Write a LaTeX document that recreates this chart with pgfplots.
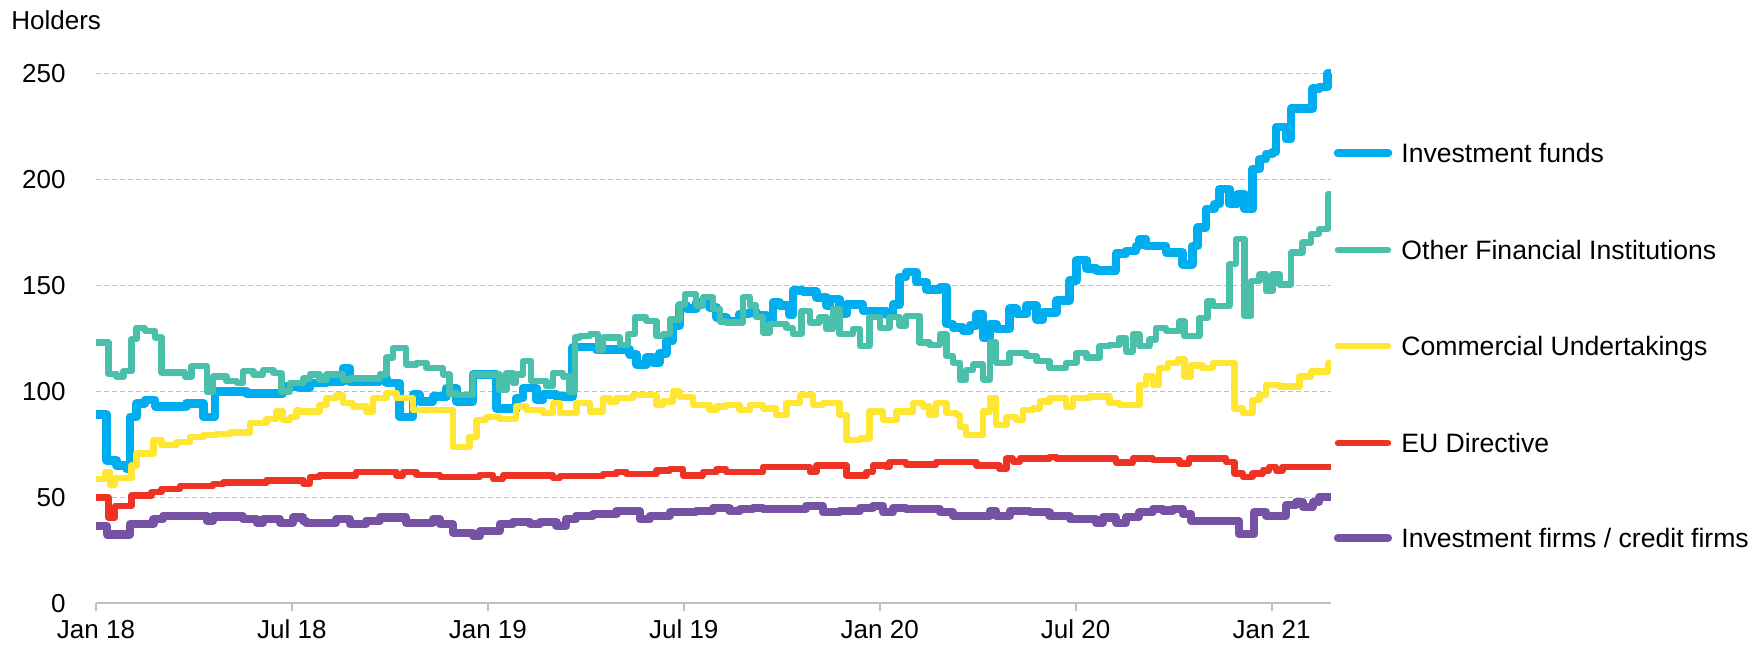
\documentclass[border=0pt]{standalone}
\usepackage{fontspec}
\setmainfont{Liberation Sans}
\usepackage{pgfplots}
\pgfplotsset{compat=1.18}

\definecolor{cFunds}{HTML}{00AEEF}
\definecolor{cOther}{HTML}{4ABFAA}
\definecolor{cComm}{HTML}{FFE632}
\definecolor{cEU}{HTML}{EE3224}
\definecolor{cFirms}{HTML}{7552A3}
\definecolor{gridgray}{HTML}{C0C0C0}
\definecolor{axisgray}{HTML}{BFBFBF}

\newcommand{\lbl}{\fontsize{13}{15}\selectfont}
\newcommand{\leg}{\fontsize{13.3}{15}\selectfont}

\begin{document}
\begin{tikzpicture}
\path[use as bounding box] (-48pt,-21.35pt) rectangle (828pt,301.65pt);
\begin{axis}[
  at={(0,0)}, anchor=south west,
  scale only axis, width=617.5pt, height=264.9pt,
  xmin=0, xmax=37.82, ymin=0, ymax=250,
  clip=false,
  axis lines*=left,
  x axis line style={color=axisgray, line width=1pt},
  y axis line style={draw=none},
  xtick={0,6,...,36},
  xticklabels={Jan 18,Jul 18,Jan 19,Jul 19,Jan 20,Jul 20,Jan 21},
  ytick={0,50,...,250},
  tick align=outside,
  major tick length=4pt,
  xtick style={color=axisgray, line width=1pt},
  ytick style={draw=none},
  ymajorgrids=true,
  major grid style={dash pattern=on 2.6pt off 1.4pt, color=gridgray, line width=0.8pt},
  /pgf/number format/assume math mode=true,
  tick label style={font=\lbl, text=black},
  xticklabel style={anchor=base, yshift=-13.6pt},
  yticklabel style={anchor=east, xshift=-7.7pt},
  every axis plot/.append style={const plot, line join=round},
]
% Investment funds
\addplot[color=cFunds, line width=4.3pt] coordinates {
(0,89)(0.33,67.5)(0.63,65)(0.94,63.5)(1.04,88)(1.24,94.4)(1.5,96)(1.81,93)(2.78,94.4)(3.29,88)
(3.64,100)(4.61,99)(5.73,102.4)(6.24,101.6)(6.55,104)(7.06,104.8)(7.57,111)(7.77,104.8)(8.69,106.3)(8.89,104)
(9.3,88)(9.71,98.4)(9.91,95.2)(10.32,97.6)(10.73,101.6)(11.04,95.2)(11.55,108)(12.26,92)(12.87,96.8)(13.08,101.6)
(13.49,96)(13.69,98.4)(14.1,97.6)(14.6,120.6)(14.71,121)(15.32,119.8)(16.34,117.5)(16.55,112.7)(16.85,116)(17.06,113.5)
(17.26,118)(17.47,124)(17.67,131)(17.87,140.5)(18.08,139)(18.38,142)(18.79,139.7)(19.0,134.9)(19.3,133.3)(19.71,136.5)
(20.02,137.3)(20.22,136)(20.53,133.3)(20.73,142)(20.94,140.5)(21.24,136)(21.34,147.6)(21.65,147)(22.06,144.4)(22.37,140.5)
(22.47,143.6)(22.77,136.5)(22.98,141)(23.49,138)(24.2,136)(24.41,141)(24.61,154)(24.81,156.3)(25.12,151.6)(25.43,148)
(25.84,149)(26.04,131.7)(26.24,130)(26.55,128.5)(26.76,131)(26.96,136.5)(27.16,125.4)(27.37,131.7)(27.57,129.4)(27.98,139)
(28.18,136.5)(28.49,140.5)(28.8,134)(29.0,137.3)(29.41,142.9)(29.82,152.4)(30.02,161.9)(30.33,158)(30.63,157)(31.24,165)
(31.54,166.3)(31.85,168.6)(31.95,171.8)(32.16,168.6)(32.77,165.5)(33.28,160)(33.58,168.6)(33.74,177.3)(33.99,186)(34.25,188.4)
(34.4,195.5)(34.71,188.4)(34.96,193)(35.17,186)(35.42,205)(35.63,209.7)(35.83,212)(36.03,212.9)(36.14,224.7)(36.44,219)
(36.6,233.4)(37.26,242.9)(37.46,243.7)(37.72,250)(37.82,250)};
% Other Financial Institutions
\addplot[color=cOther, line width=3.2pt] coordinates {
(0,123)(0.38,108.3)(0.63,107)(0.84,109.5)(1.09,124.6)(1.24,130)(1.5,128.5)(1.81,125.4)(2.01,109)(2.72,107)
(2.93,112)(3.39,99.7)(3.59,107)(4.0,104.8)(4.31,104)(4.51,109.5)(4.82,108)(5.12,110)(5.43,108.7)(5.68,100)
(5.94,104)(6.35,106)(6.55,108)(6.85,105.6)(7.06,108)(7.57,105.6)(7.77,106)(8.69,108)(8.89,116)(9.1,120.6)
(9.5,112.7)(9.81,113.5)(10.12,111)(10.63,108)(10.83,99)(11.04,98.4)(11.55,108)(12.36,100.8)(12.57,108.7)(12.77,104)
(12.87,108)(13.08,114.3)(13.33,104.8)(13.79,102.4)(14.0,108.7)(14.3,107)(14.5,100)(14.66,125.4)(14.81,126)(15.12,127)
(15.37,119.8)(15.53,125.4)(16.04,122)(16.29,127)(16.5,134.9)(16.85,133.3)(17.16,126)(17.36,127)(17.57,134)(17.87,141)
(18.03,146)(18.38,140.5)(18.59,144.4)(18.9,138.9)(19.1,133)(19.3,132.5)(19.81,144.4)(20.02,140.5)(20.22,135)(20.43,127.8)
(20.63,131.7)(21.14,130)(21.34,127)(21.6,138)(21.86,132.5)(22.16,135)(22.37,129.4)(22.57,139)(22.77,127)(23.18,129.4)
(23.39,121.4)(23.69,135)(24.0,130)(24.3,135)(24.61,131)(24.81,135.7)(25.22,123)(25.53,122)(25.84,127)(26.04,116.7)
(26.24,113.5)(26.45,105.6)(26.65,110)(26.86,112.7)(27.16,105.6)(27.37,123)(27.57,113.5)(27.98,118)(28.49,116.7)(28.8,114.3)
(29.2,111)(29.71,113.5)(30.02,118)(30.33,115.9)(30.73,121.4)(31.04,122)(31.34,125.2)(31.54,118.9)(31.75,126.8)(31.95,121.3)
(32.26,124.4)(32.46,130)(32.77,128.4)(33.18,133)(33.33,126)(33.79,134.7)(34.04,142.6)(34.2,140.2)(34.71,160)(34.91,171.8)
(35.17,135.5)(35.37,152)(35.63,155.2)(35.83,147.3)(36.03,155.2)(36.24,150.5)(36.6,165.5)(36.95,170.2)(37.21,174.2)(37.46,176.5)
(37.72,193)(37.82,193)};
% Commercial Undertakings
\addplot[color=cComm, line width=3.2pt] coordinates {
(0,58.7)(0.28,61.8)(0.43,56)(0.58,59)(1.09,65)(1.24,70.6)(1.76,77)(2.01,74.6)(2.47,76)(2.88,78.6)
(3.29,79.4)(3.69,80)(4.1,80.6)(4.71,85)(5.22,87)(5.53,90.5)(5.73,86.5)(5.94,88)(6.14,91)(6.24,90.5)
(6.85,93.6)(7.06,96.8)(7.36,98.4)(7.57,94.4)(7.87,92.9)(8.28,90.5)(8.49,96.8)(8.89,99.2)(9.2,96.8)(9.71,91.3)
(10.93,73.8)(11.44,78.6)(11.65,86.5)(11.95,88)(12.36,87)(12.87,92.9)(13.18,91.3)(13.69,89.7)(14.0,94.4)(14.2,89.7)
(14.71,94.4)(15.12,90.5)(15.53,96.8)(15.73,95.2)(15.94,96.8)(16.45,98.4)(17.16,93.6)(17.36,95.2)(17.67,100)(17.87,97.3)
(18.28,93.6)(18.79,91.3)(19.0,92.9)(19.3,93.6)(19.71,91.3)(20.02,93.6)(20.43,92)(20.83,88.9)(21.14,94.4)(21.55,98.4)
(21.96,93.6)(22.26,94.4)(22.77,88.9)(22.98,77)(23.39,77.8)(23.69,90.5)(24.1,86.5)(24.51,90.5)(25.02,94.4)(25.33,92.9)
(25.53,88.9)(25.73,94.4)(26.04,89.7)(26.35,88.9)(26.45,83.3)(26.65,79.4)(27.16,90.5)(27.37,96.8)(27.57,84)(27.88,88)
(28.18,86.5)(28.39,91.3)(28.69,92)(28.9,95.2)(29.2,96.8)(29.71,92.9)(29.92,96.8)(30.43,97.6)(31.04,94.4)(31.34,93.6)
(31.95,103)(32.16,107)(32.36,103)(32.56,111)(32.82,113.4)(33.13,115)(33.33,107)(33.53,112.3)(33.89,111)(34.2,113.4)
(34.86,92)(35.12,89.7)(35.42,96)(35.63,98.4)(35.83,103)(36.24,102.3)(36.85,107)(37.21,109.4)(37.72,113.4)(37.82,113.4)};
% EU Directive
\addplot[color=cEU, line width=3.2pt] coordinates {
(0,50)(0.38,40.5)(0.58,46)(1.09,50.8)(1.7,52.4)(2.01,54)(2.57,55.4)(3.59,56.3)(3.9,57)(5.22,58)
(6.35,56.5)(6.55,59.5)(6.85,60.3)(7.97,62)(9.2,60.3)(9.4,62)(9.81,60.6)(10.53,59.5)(11.75,60.6)(12.16,58.7)
(12.46,60.3)(14.0,59)(14.2,60)(15.53,61)(15.94,62)(16.24,61)(17.16,62.7)(17.57,63.5)(17.98,60.3)(18.59,62)
(19.0,63.2)(19.3,62)(20.43,64.3)(21.86,62)(22.06,65)(22.98,60.3)(23.59,62)(23.79,65)(24.2,64.3)(24.3,66.7)
(24.81,65.5)(25.73,66.7)(26.96,65)(27.67,63.5)(27.88,68.3)(28.08,67)(28.29,68.3)(29.2,69)(29.41,68.3)(31.24,66.5)
(31.75,68.3)(32.36,67.5)(33.18,66)(33.48,68.3)(34.61,66.7)(34.86,61.2)(35.12,59.6)(35.42,61.2)(35.73,62.7)(35.93,64.4)
(36.14,62.7)(36.34,64.4)(37.82,64.4)};
% Investment firms / credit firms
\addplot[color=cFirms, line width=4.1pt] coordinates {
(0,36.5)(0.33,32.5)(1.04,37.3)(1.76,39.7)(2.06,41.3)(3.39,38.9)(3.59,41)(4.51,39.7)(4.92,38)(5.12,39.7)
(5.63,38)(6.04,40.5)(6.35,39)(6.44,38)(7.36,39.7)(7.77,37.3)(8.28,38.9)(8.69,40.5)(9.5,38)(10.32,39.7)
(10.53,37.3)(10.93,33.3)(11.55,31.7)(11.75,34)(12.36,37.3)(12.77,38.5)(13.28,37.3)(13.59,38.3)(14.1,36.5)(14.4,39.7)
(14.71,41.3)(15.22,42)(15.94,43.6)(16.65,39.7)(16.96,41.3)(17.57,42.9)(18.38,43.6)(18.9,45)(19.4,43.6)(19.71,44.4)
(20.12,45)(20.43,44.4)(21.75,46)(22.26,42.9)(22.77,43.6)(23.39,45)(23.79,46)(24.1,42.9)(24.41,45)(24.81,44.4)
(25.84,42.9)(26.24,41.3)(27.37,43.6)(27.57,41.3)(27.98,43.6)(28.59,42.9)(29.2,41.3)(29.82,39.7)(30.63,38)(30.84,40.5)
(31.24,38)(31.55,40.6)(31.95,43)(32.36,44.5)(32.67,43.8)(32.97,44.5)(33.28,42.1)(33.53,38.9)(35.01,32.6)(35.47,43)
(35.83,41.3)(36.44,46.3)(36.75,47.9)(36.95,45.5)(37.26,47.9)(37.46,50.2)(37.82,50.2)};
\end{axis}
% axis title
\node[anchor=base west, inner sep=0pt, font=\lbl] at (-42.5pt,286.9pt) {Holders};
% legend
\foreach \y/\c/\w/\t in {225.15/cFunds/4.3pt/{Investment funds},
                          176.65/cOther/3.2pt/{Other Financial Institutions},
                          128.65/cComm/3.2pt/{Commercial Undertakings},
                          80.15/cEU/3.2pt/{EU Directive},
                          32.65/cFirms/4.1pt/{Investment firms / credit firms}}{
  \draw[\c, line width=\w, line cap=round] (621pt,\y pt) -- (646pt,\y pt);
  \node[anchor=base west, inner sep=0pt, font=\leg] at (652.5pt,\y pt-4.75pt) {\t};
}
\end{tikzpicture}
\end{document}
